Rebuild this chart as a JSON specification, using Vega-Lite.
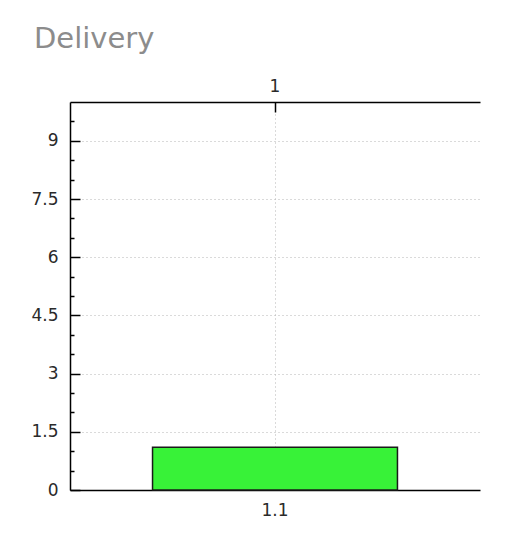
{
  "$schema": "https://vega.github.io/schema/vega-lite/v6.json",
  "width": 410,
  "height": 388,
  "autosize": {"type": "none"},
  "padding": {"left": 70, "top": 102, "right": 32, "bottom": 47},
  "background": "#ffffff",
  "view": {"stroke": null, "fill": "#ffffff"},
  "title": {
    "text": "Delivery",
    "anchor": "start",
    "frame": "group",
    "dx": -36,
    "offset": 0,
    "baseline": "alphabetic",
    "font": "DejaVu Sans",
    "fontSize": 29,
    "fontWeight": "normal",
    "color": "#8c8c8c"
  },
  "data": {"values": [{"label": "1.1", "group": "1", "value": 1.1}]},
  "config": {
    "axis": {
      "labelFont": "DejaVu Sans",
      "labelFontSize": 17,
      "labelColor": "#2a2a2a",
      "domainColor": "#000000",
      "domainWidth": 1.5,
      "tickColor": "#000000",
      "tickWidth": 1.5,
      "gridColor": "#b4b4b4",
      "gridDash": [1, 3],
      "gridWidth": 1,
      "title": null
    }
  },
  "layer": [
    {
      "mark": {"type": "bar", "fill": "#38f238", "stroke": "#1a1a1a", "strokeWidth": 1.5},
      "encoding": {
        "x": {
          "field": "label",
          "type": "nominal",
          "scale": {"paddingInner": 0, "paddingOuter": 0.337},
          "axis": {"orient": "bottom", "labelAngle": 0, "tickSize": -10, "labelPadding": 22, "grid": true, "title": null}
        },
        "y": {
          "field": "value",
          "type": "quantitative",
          "scale": {"domain": [0, 10], "nice": false},
          "axis": {"orient": "left", "values": [0, 1.5, 3, 4.5, 6, 7.5, 9], "format": ".2~f", "tickSize": -10, "labelPadding": 22, "grid": true, "title": null}
        }
      }
    },
    {
      "mark": {"type": "bar", "opacity": 0},
      "encoding": {
        "x": {
          "field": "group",
          "type": "nominal",
          "scale": {"paddingInner": 0, "paddingOuter": 0.337},
          "axis": {"orient": "top", "labelAngle": 0, "tickSize": -10, "labelPadding": 17, "grid": false, "title": null}
        },
        "y": {
          "field": "value",
          "type": "quantitative",
          "scale": {"domain": [0, 10], "nice": false},
          "axis": {"orient": "left", "values": [0.5, 1, 2, 2.5, 3.5, 4, 5, 5.5, 6.5, 7, 8, 8.5, 9.5], "tickSize": -4, "labels": false, "domain": false, "grid": false, "title": null}
        }
      }
    }
  ],
  "resolve": {"scale": {"x": "independent"}, "axis": {"x": "independent", "y": "independent"}}
}
